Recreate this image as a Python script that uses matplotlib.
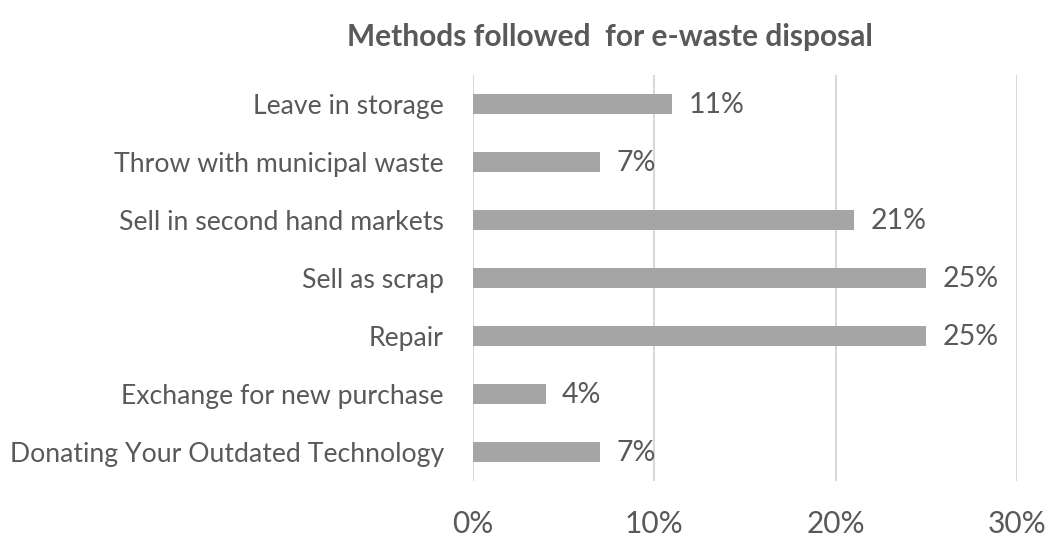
import matplotlib
matplotlib.use('Agg')
import matplotlib.pyplot as plt

# dados
categorias = ['Leave in storage', 'Throw with municipal waste', 'Sell in second hand markets',
              'Sell as scrap', 'Repair', 'Exchange for new purchase',
              'Donating Your Outdated Technology']
valores = [11, 7, 21, 25, 25, 4, 7]
ticks_x = [0, 10, 20, 30]
rotulos_x = ['0%', '10%', '20%', '30%']

cor_barra = '#A5A5A5'
cor_texto = '#595959'
cor_grade = '#D9D9D9'

plt.rcParams['font.family'] = ['Lato', 'DejaVu Sans']

fig = plt.figure(figsize=(10.53, 5.38), dpi=100)
ax = fig.add_axes([473 / 1053, 1 - 481 / 538, (1017 - 473) / 1053, (481 - 75) / 538])

pos = list(range(len(categorias)))
ax.barh(pos, valores, height=0.345, color=cor_barra, zorder=3)

for p, v in zip(pos, valores):
    ax.annotate(f'{v}%', xy=(v, p), xytext=(12, -1), textcoords='offset points',
                va='center', ha='left', fontsize=20.5, color=cor_texto, zorder=4)

ax.set_xlim(0, 30)
ax.set_ylim(len(categorias) - 0.5, -0.5)
ax.set_xticks(ticks_x)
ax.set_xticklabels(rotulos_x, fontsize=21.5, color=cor_texto)
ax.set_yticks(pos)
ax.set_yticklabels(categorias, fontsize=19.2, color=cor_texto)
ax.tick_params(axis='both', length=0)
ax.tick_params(axis='y', pad=21)
ax.tick_params(axis='x', pad=21)

ax.grid(axis='x', color=cor_grade, lw=1.5, zorder=0)
for s in ax.spines.values():
    s.set_visible(False)

fig.text(610 / 1053, 1 - 37 / 538, 'Methods followed  for e-waste disposal',
         ha='center', va='center', fontsize=21.5, fontweight='bold', color=cor_texto)

fig.savefig('out.png', dpi=100)
